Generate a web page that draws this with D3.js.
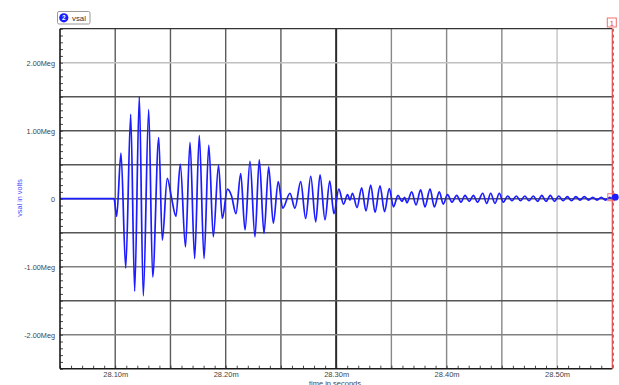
<!DOCTYPE html>
<html><head><meta charset="utf-8">
<script src="https://cdn.jsdelivr.net/npm/d3@7"></script>
<style>body{margin:0;background:#fff}svg{display:block}text{font-family:"Liberation Sans",Arial,sans-serif}</style>
</head><body><svg id="c" width="619" height="385"></svg>
<script>
// ---- data (time in ms, vsal in Meg volts) ----
const timeMs = [28.05,28.0989,28.1013,28.1052,28.1095,28.1140,28.1176,28.1218,28.1254,28.1303,28.1339,28.1394,28.1426,28.1471,28.1509,28.1550,
28.1589,28.1636,28.1677,28.1719,28.1761,28.1804,28.1847,28.1888,28.1935,28.1969,28.2016,28.2053,28.2093,28.2136,28.2175,28.2220,28.2265,28.2304,28.2347,28.2389,28.2431,28.2476,28.2516,28.2582,28.2627,
28.2679,28.2724,28.2770,28.2815,28.2854,28.2899,28.2942,28.2980,28.3024,28.3067,28.3103,28.3125,28.3148,28.3189,28.3231,28.3270,28.3313,28.3352,28.3397,28.3438,28.3481,28.3519,28.3560,28.3596,28.3619,28.3641,
28.3684,28.3723,28.3765,28.3804,28.3850,28.3889,28.3934,28.3970,28.4008,28.4049,28.4091,28.4130,28.4167,28.4205,28.4242,28.4280,28.4327,28.4363,28.4399,28.4438,28.4477,28.4513,28.4553,28.4592,28.4631,28.4669,
28.4708,28.4746,28.4785,28.4823,28.4862,28.4900,28.4939,28.4977,28.5016,28.5054,28.5093,28.5131,28.5170,28.5208,28.5247,28.5285,28.5323,28.5362,28.5400,28.5438,28.5477,28.55];
const vsalMeg = [0,0,-0.26,0.67,-1.02,1.24,-1.36,1.50,-1.43,1.31,-1.15,0.90,-0.61,0.30,0.02,-0.26,
0.51,-0.71,0.83,-0.88,0.93,-0.88,0.79,-0.56,0.49,-0.29,0.14,0.04,-0.22,0.37,-0.46,0.55,-0.56,0.57,-0.51,0.47,-0.36,0.25,-0.14,0.08,-0.14,
0.25,-0.29,0.33,-0.34,0.35,-0.31,0.26,-0.22,0.14,-0.08,0.06,-0.02,0.08,-0.13,0.16,-0.18,0.20,-0.20,0.19,-0.19,0.15,-0.12,0.05,-0.04,0.02,-0.06,
0.10,-0.09,0.13,-0.12,0.14,-0.12,0.10,-0.08,0.06,-0.05,0.05,-0.05,0.05,-0.04,0.05,-0.05,0.08,-0.07,0.08,-0.07,0.08,-0.05,0.04,-0.03,0.04,-0.03,
0.04,-0.03,0.04,-0.04,0.05,-0.04,0.05,-0.04,0.04,-0.03,0.03,-0.03,0.03,-0.02,0.03,-0.02,0.02,-0.02,0.02,-0.02,0.02,0];
const xTickLabels = [28.10,28.20,28.30,28.40,28.50];
const xGrid = [28.10,28.15,28.20,28.25,28.30,28.35,28.40,28.45,28.50];
const yTickLabels = [-2,-1,0,1,2];
const yGrid = [-2,-1.5,-1,-0.5,0,0.5,1,1.5,2];
const seriesName = "vsal";

// ---- layout ----
const svg = d3.select("#c");
const L=60, R=612.3, T=28.7, B=368.7;
const x = d3.scaleLinear().domain([28.05,28.55]).range([L,R]);
const y = d3.scaleLinear().domain([-2.5,2.5]).range([B,T]);

const xGridColor = d => d===28.30 ? "#2a2a2a" : d===28.50 ? "#c4c4c4" : d>=28.35 ? "#888" : "#5c5c5c";
const xGridW = d => d===28.30 ? 2 : 1.4;
const yGridColor = d => d===2 ? "#c0c0c0" : (d===-2||d===-1) ? "#808080" : "#555";

svg.append("g").selectAll("line").data(xGrid).join("line")
  .attr("x1",d=>x(d)).attr("x2",d=>x(d)).attr("y1",T).attr("y2",B)
  .attr("stroke",xGridColor).attr("stroke-width",xGridW);
svg.append("g").selectAll("line").data(yGrid).join("line")
  .attr("x1",L).attr("x2",R).attr("y1",d=>y(d)).attr("y2",d=>y(d))
  .attr("stroke",yGridColor).attr("stroke-width",1.4);

// minor ticks via axes
const minorY = d3.range(-25,26).map(v=>v/10);
const minorX = d3.range(0,51).map(v=>+(28.05+v*0.01).toFixed(2));
const ay = svg.append("g").attr("transform",`translate(${L},0)`)
  .call(d3.axisRight(y).tickValues(minorY).tickSize(3).tickFormat(""));
const ax = svg.append("g").attr("transform",`translate(0,${B})`)
  .call(d3.axisTop(x).tickValues(minorX).tickSize(3).tickFormat(""));
[ay,ax].forEach(g=>{g.select(".domain").remove();g.selectAll("line").attr("stroke","#333").attr("stroke-width",0.9);});

// labels
const fmtY = v => v===0 ? "0" : v.toFixed(2)+"Meg";
const lblY = svg.append("g").attr("transform",`translate(${L-2},0)`)
  .call(d3.axisLeft(y).tickValues(yTickLabels).tickSize(0).tickFormat(fmtY));
lblY.select(".domain").remove();
lblY.selectAll("text").attr("font-size",7.3).attr("fill","#444").attr("font-family","Liberation Sans, Arial");
const lblX = svg.append("g").attr("transform",`translate(0,${B})`)
  .call(d3.axisBottom(x).tickValues(xTickLabels).tickSize(0).tickFormat(d=>d.toFixed(2)+"m"));
lblX.select(".domain").remove();
lblX.selectAll("text").attr("font-size",7.5).attr("fill","#444").attr("font-family","Liberation Sans, Arial");

// signal
const pts = timeMs.map((t,i)=>[t,vsalMeg[i]]);
svg.append("path").datum(pts)
  .attr("d",d3.line().x(d=>x(d[0])).y(d=>y(d[1])).curve(d3.curveMonotoneX))
  .attr("fill","none").attr("stroke","#1c1cff").attr("stroke-width",1.7).attr("stroke-linejoin","round");

// frame
svg.append("line").attr("x1",L).attr("x2",R).attr("y1",T).attr("y2",T).attr("stroke","#333").attr("stroke-width",1.3);
svg.append("line").attr("x1",L).attr("x2",L).attr("y1",T).attr("y2",B).attr("stroke","#1a1a1a").attr("stroke-width",1.6);
svg.append("line").attr("x1",L).attr("x2",R).attr("y1",B).attr("y2",B).attr("stroke","#1a1a1a").attr("stroke-width",1.6);

// cursor at right
svg.append("line").attr("x1",R).attr("x2",R).attr("y1",T).attr("y2",B).attr("stroke","#ee4444").attr("stroke-width",1.2);
svg.append("line").attr("x1",R+1).attr("x2",R+1).attr("y1",T).attr("y2",B).attr("stroke","#666").attr("stroke-width",1).attr("stroke-dasharray","3,3");
svg.append("rect").attr("x",R-5).attr("y",18).attr("width",9).attr("height",9).attr("fill","#fff").attr("stroke","#f07070").attr("stroke-width",1);
svg.append("text").attr("x",R-0.5).attr("y",25.5).attr("text-anchor","middle").attr("font-size",7.5).attr("fill","#e04040").text("1");
svg.append("rect").attr("x",R-4.5).attr("y",y(0)-5).attr("width",7).attr("height",7).attr("fill","none").attr("stroke","#f07070").attr("stroke-width",1);
svg.append("circle").attr("cx",R+3).attr("cy",y(0)-1.5).attr("r",3.4).attr("fill","#1c1cff");

// legend
svg.append("rect").attr("x",57.5).attr("y",11.5).attr("width",32.5).attr("height",12.5).attr("rx",1.5)
  .attr("fill","#fff").attr("stroke","#9a9a9a").attr("stroke-width",1);
svg.append("circle").attr("cx",63.8).attr("cy",17.8).attr("r",4.6).attr("fill","#1c1cff");
svg.append("text").attr("x",63.8).attr("y",20.4).attr("text-anchor","middle").attr("font-size",6.5).attr("font-weight","bold").attr("fill","#fff").text("2");
svg.append("text").attr("x",72).attr("y",20.8).attr("font-size",7.8).attr("fill","#333").text(seriesName);

// axis titles
svg.append("text").attr("transform","translate(22,198) rotate(-90)").attr("text-anchor","middle")
  .attr("font-size",7.3).attr("fill","#4a4aff").text("vsal in volts");
svg.append("text").attr("x",335).attr("y",386).attr("text-anchor","middle")
  .attr("font-size",7.5).attr("fill","#444").text("time in seconds");
</script></body></html>
